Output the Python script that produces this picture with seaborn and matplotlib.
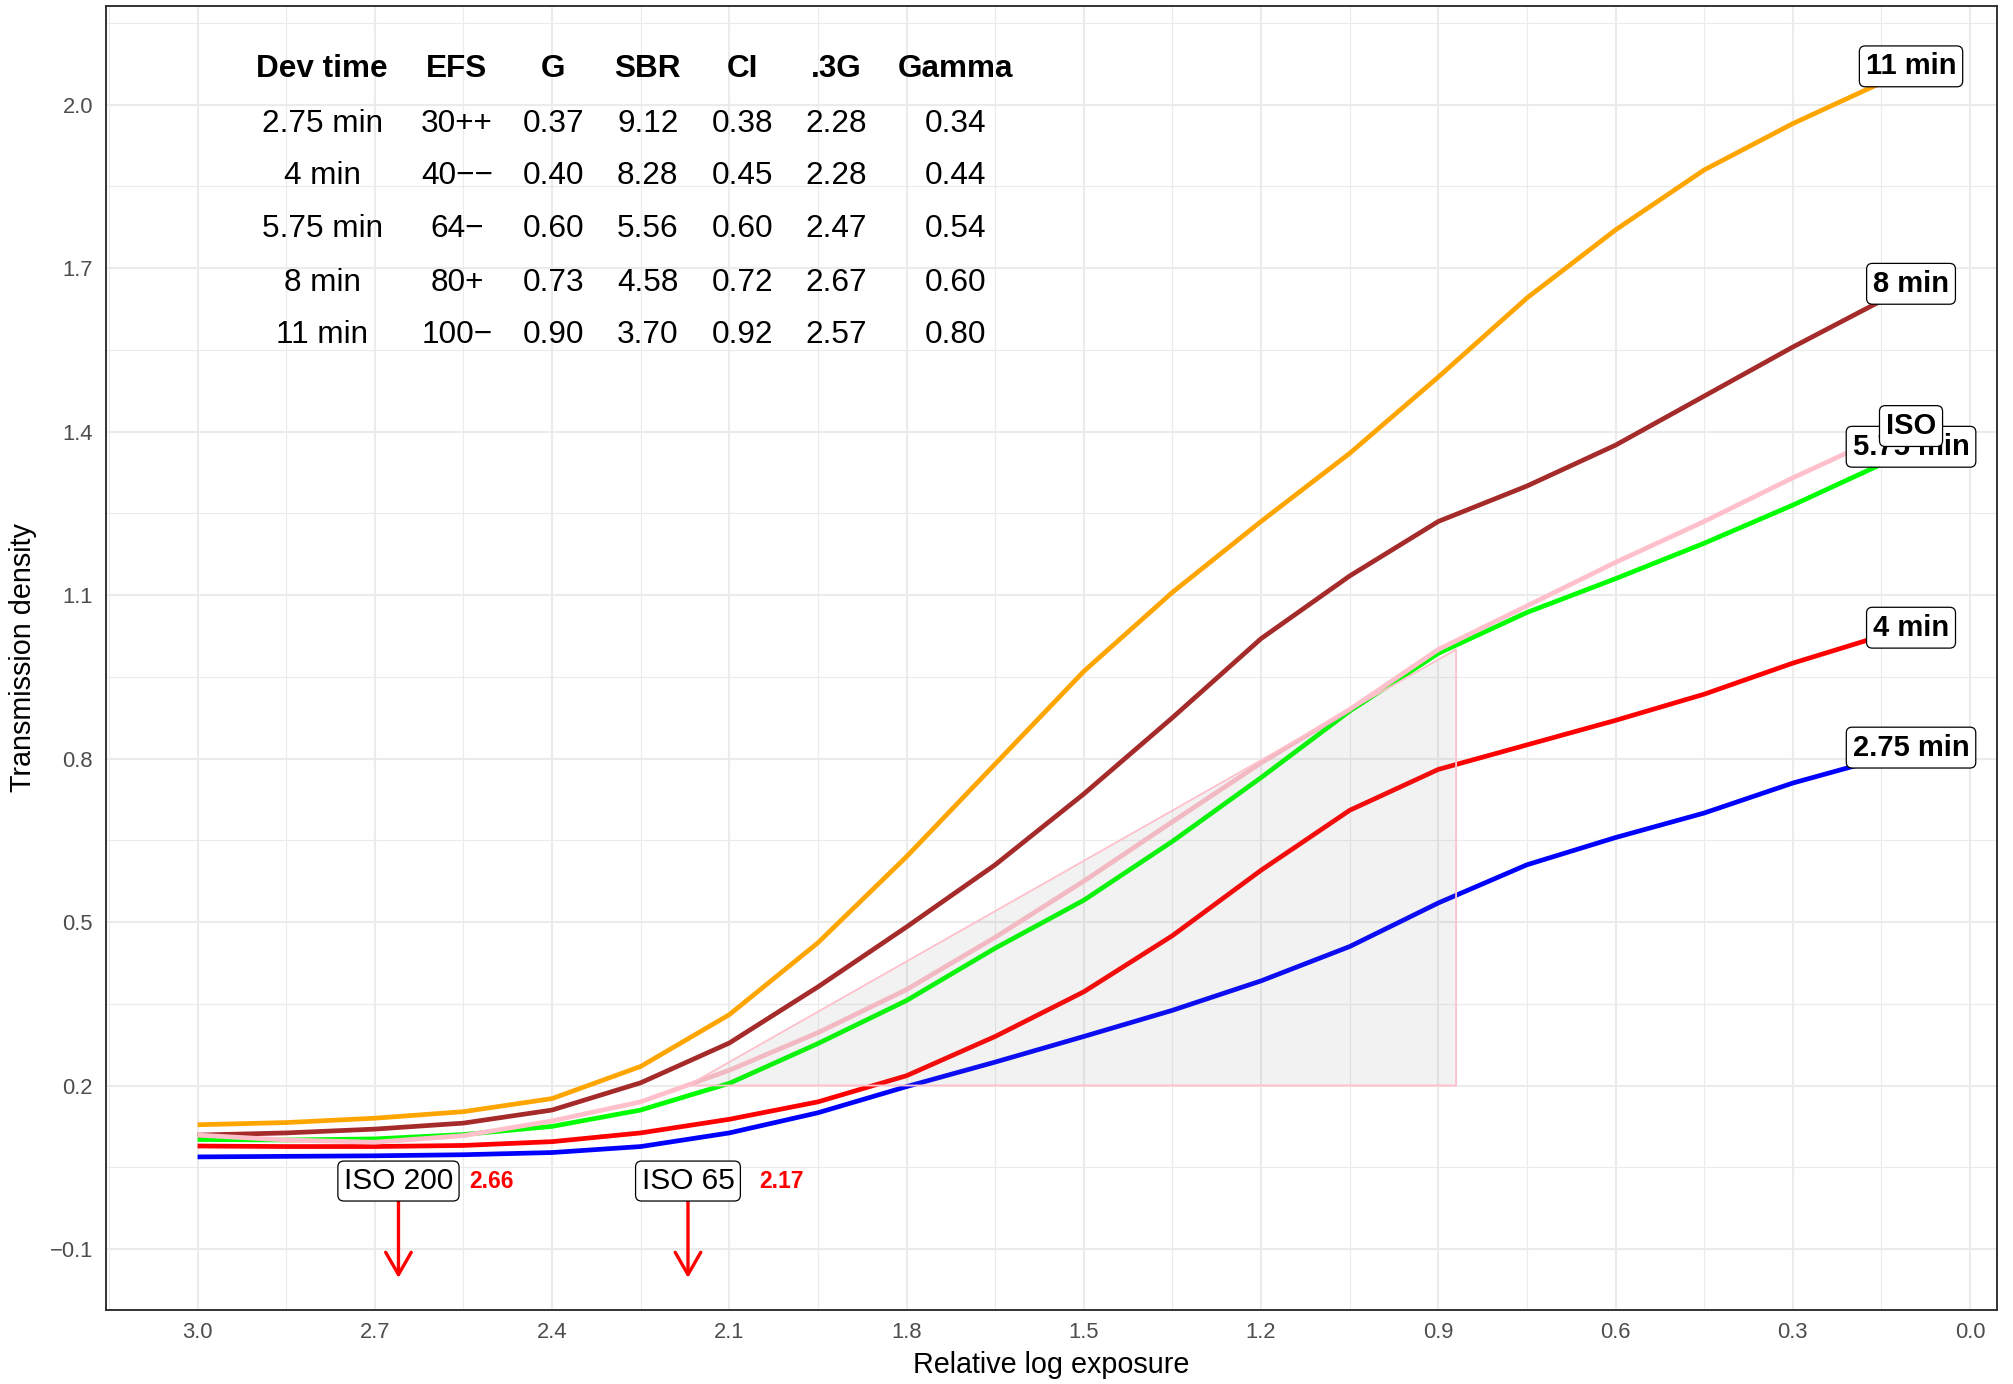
import matplotlib.pyplot as plt
import matplotlib.ticker as mticker
import pandas as pd
import seaborn as sns

# Characteristic curves
LOG_E = [3.0, 2.85, 2.7, 2.55, 2.4, 2.25, 2.1, 1.95, 1.8, 1.65, 1.5,
         1.35, 1.2, 1.05, 0.9, 0.75, 0.6, 0.45, 0.3, 0.15, 0.1]
DENS_2_75 = [0.069, 0.070, 0.071, 0.073, 0.077, 0.088, 0.113, 0.150, 0.198, 0.243, 0.290,
             0.338, 0.392, 0.455, 0.535, 0.605, 0.655, 0.700, 0.755, 0.800, 0.820]
DENS_4 = [0.089, 0.088, 0.088, 0.090, 0.097, 0.113, 0.138, 0.170, 0.218, 0.290, 0.372,
          0.475, 0.595, 0.705, 0.780, 0.825, 0.870, 0.918, 0.975, 1.025, 1.040]
DENS_5_75 = [0.101, 0.100, 0.102, 0.110, 0.125, 0.155, 0.204, 0.277, 0.356, 0.452, 0.540,
             0.648, 0.765, 0.887, 0.993, 1.068, 1.130, 1.195, 1.265, 1.340, 1.372]
DENS_8 = [0.109, 0.113, 0.120, 0.131, 0.155, 0.205, 0.278, 0.381, 0.491, 0.605, 0.735,
          0.875, 1.020, 1.135, 1.235, 1.300, 1.375, 1.465, 1.555, 1.640, 1.671]
DENS_11 = [0.128, 0.132, 0.140, 0.152, 0.176, 0.235, 0.330, 0.462, 0.620, 0.790, 0.960,
           1.105, 1.235, 1.360, 1.500, 1.645, 1.770, 1.880, 1.965, 2.040, 2.070]
DENS_ISO = [0.109, 0.100, 0.096, 0.108, 0.135, 0.170, 0.228, 0.297, 0.376, 0.472, 0.575,
            0.684, 0.792, 0.890, 1.000, 1.080, 1.160, 1.235, 1.315, 1.390, 1.410]

SERIES = ["2.75 min", "4 min", "5.75 min", "8 min", "11 min", "ISO"]
PALETTE = {"2.75 min": "#0000FF", "4 min": "#FF0000", "5.75 min": "#00FF00",
           "8 min": "#A52A2A", "11 min": "#FFA500", "ISO": "#FFC0CB"}

# summary table
TABLE_HEADER = ["Dev time", "EFS", "G", "SBR", "CI", ".3G", "Gamma"]
DEV_TIME = ["2.75 min", "4 min", "5.75 min", "8 min", "11 min"]
EFS = ["30++", "40\u2212\u2212", "64\u2212", "80+", "100\u2212"]
G = ["0.37", "0.40", "0.60", "0.73", "0.90"]
SBR = ["9.12", "8.28", "5.56", "4.58", "3.70"]
CI = ["0.38", "0.45", "0.60", "0.72", "0.92"]
G03 = ["2.28", "2.28", "2.47", "2.67", "2.57"]
GAMMA = ["0.34", "0.44", "0.54", "0.60", "0.80"]

# ISO speed points and the ISO triangle (M at 0.1 over fog, N = M + (1.3, 0.8))
ISO_LABELS = ["ISO 200", "ISO 65"]
ISO_LOG_E = [2.66, 2.17]
ISO_M = [2.17, 0.2]
ISO_N = [0.87, 1.0]

X_TICKS = [3.0, 2.7, 2.4, 2.1, 1.8, 1.5, 1.2, 0.9, 0.6, 0.3, 0.0]
Y_TICKS = [2.0, 1.7, 1.4, 1.1, 0.8, 0.5, 0.2, -0.1]
Y_TICK_LABELS = ["2.0", "1.7", "1.4", "1.1", "0.8", "0.5", "0.2", "\u22120.1"]

sns.set_style("white")
plt.rcParams["font.family"] = ["Liberation Sans", "DejaVu Sans"]
plt.rcParams["text.color"] = "black"
plt.rcParams["axes.labelcolor"] = "black"

dens = [DENS_2_75, DENS_4, DENS_5_75, DENS_8, DENS_11, DENS_ISO]
curves = pd.concat(
    [pd.DataFrame({"logE": LOG_E, "density": d, "dev": name}) for name, d in zip(SERIES, dens)],
    ignore_index=True,
)

fig = plt.figure(figsize=(20.13, 13.84), dpi=100)
ax = fig.add_axes([106 / 2013, 1 - 1309.5 / 1384, (1996.7 - 106) / 2013, (1309.5 - 6.4) / 1384])

sns.lineplot(data=curves, x="logE", y="density", hue="dev", palette=PALETTE,
             hue_order=SERIES, estimator=None, sort=False, linewidth=3.4,
             legend=False, ax=ax, zorder=3)
for ln in ax.get_lines():
    ln.set_solid_joinstyle("round")
    ln.set_solid_capstyle("butt")

# ISO triangle: light grey fill laid over the curves, pink outline
tri_x = [ISO_M[0], ISO_N[0], ISO_N[0], ISO_M[0]]
tri_y = [ISO_M[1], ISO_M[1], ISO_N[1], ISO_M[1]]
ax.fill(tri_x, tri_y, color="#808080", alpha=0.1, lw=0, zorder=4)
ax.plot(tri_x, tri_y, color="#FFC0CB", lw=1.3, zorder=4)

ax.set_xlim(3.155, -0.045)
ax.set_ylim(-0.211, 2.180)
ax.set_xticks(X_TICKS)
ax.set_xticklabels([f"{v:.1f}" for v in X_TICKS])
ax.set_yticks(Y_TICKS)
ax.set_yticklabels(Y_TICK_LABELS)
ax.xaxis.set_minor_locator(mticker.AutoMinorLocator(2))
ax.yaxis.set_minor_locator(mticker.AutoMinorLocator(2))
ax.grid(which="major", color="#EBEBEB", lw=1.5)
ax.grid(which="minor", color="#EBEBEB", lw=0.8)
ax.set_axisbelow(True)
ax.tick_params(which="major", length=4.8, width=1.3, color="#333333",
               labelsize=15.8, labelcolor="#4D4D4D", pad=4.5)
ax.tick_params(which="minor", length=0)
for sp in ax.spines.values():
    sp.set_visible(True)
    sp.set_color("#333333")
    sp.set_linewidth(1.4)

ax.set_xlabel("Relative log exposure", fontsize=20.7, color="black")
ax.set_ylabel("Transmission density", fontsize=20.7, color="black")
ax.xaxis.set_label_coords(0.5, -0.0425)
ax.xaxis.label.set_va("center")
ax.yaxis.set_label_coords(-0.0439, 0.5)
ax.yaxis.label.set_va("center")

# end-of-curve labels (ISO sits on top of 5.75 min as in the reference)
for name, d in zip(SERIES, dens):
    ax.text(LOG_E[-1], d[-1], name, ha="center", va="center", fontsize=21,
            fontweight="bold", color="black", zorder=6 if name == "ISO" else 5,
            bbox=dict(boxstyle="round,pad=0.22,rounding_size=0.2", fc="white",
                      ec="black", lw=0.9))

# summary table drawn as text in data space
col_x = [2.789, 2.561, 2.398, 2.238, 2.077, 1.919, 1.717]
row_y = [2.066, 1.965, 1.868, 1.772, 1.673, 1.577]
columns = [DEV_TIME, EFS, G, SBR, CI, G03, GAMMA]
for cx, head, vals in zip(col_x, TABLE_HEADER, columns):
    ax.text(cx, row_y[0], head, ha="center", va="center", fontsize=22.7,
            fontweight="bold", color="black")
    for ry, v in zip(row_y[1:], vals):
        ax.text(cx, ry, v, ha="center", va="center", fontsize=22.7, color="black")

# ISO speed markers
for lab, xe in zip(ISO_LABELS, ISO_LOG_E):
    ax.annotate("", xy=(xe, -0.153), xytext=(xe, 0.0),
                arrowprops=dict(arrowstyle="->,head_length=0.4,head_width=0.23",
                                color="#FF0000", lw=2.4, mutation_scale=40,
                                shrinkA=0, shrinkB=0), zorder=5)
    ax.text(xe, 0.0247, lab, ha="center", va="center", fontsize=21.5, color="black",
            zorder=6, bbox=dict(boxstyle="round,pad=0.2,rounding_size=0.2", fc="white",
                                ec="black", lw=0.9))
    ax.text(xe - 0.12, 0.0247, f"{xe:.2f}", ha="left", va="center", fontsize=16.5,
            fontweight="bold", color="#FF0000", zorder=6)

fig.savefig("out.png", dpi=100, facecolor="white")
